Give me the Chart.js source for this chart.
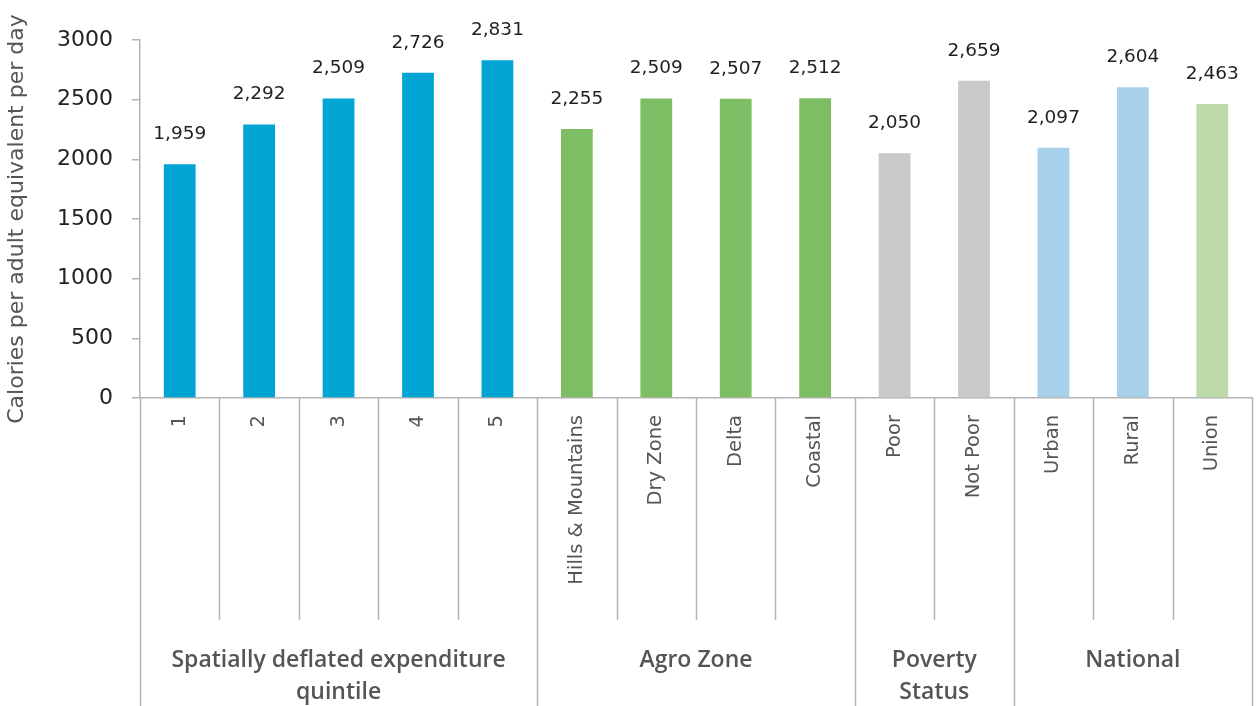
<!DOCTYPE html>
<html>
<head>
<meta charset="utf-8">
<script src="https://cdn.jsdelivr.net/npm/chart.js@4.4.1/dist/chart.umd.min.js"></script>
<style>
  html, body { margin: 0; padding: 0; background: #fff; }
  #wrap { width: 1258px; height: 706px; }
</style>
</head>
<body>
<div id="wrap"><canvas id="calChart" width="1258" height="706"></canvas></div>
<script>
// Calories per adult equivalent per day, by group

const categories = ['1', '2', '3', '4', '5', 'Hills & Mountains', 'Dry Zone', 'Delta', 'Coastal',
  'Poor', 'Not Poor', 'Urban', 'Rural', 'Union'];
const calories = [1959, 2292, 2509, 2726, 2831, 2255, 2509, 2507, 2512, 2050, 2659, 2097, 2604, 2463];
const groupNames = [['Spatially deflated expenditure', 'quintile'], ['Agro Zone'], ['Poverty', 'Status'], ['National']];
const groupSizes = [5, 4, 2, 3];
const yTickValues = [0, 500, 1000, 1500, 2000, 2500, 3000];

const barColors = ['#00A5D4', '#00A5D4', '#00A5D4', '#00A5D4', '#00A5D4',
  '#7DBE64', '#7DBE64', '#7DBE64', '#7DBE64',
  '#C8C9CB', '#C8C9CB',
  '#A7D1EA', '#A7D1EA', '#BBDAA8'];

const lineColor = '#b4b4b4';

// value labels above the bars
const valueLabels = {
  id: 'valueLabels',
  afterDatasetsDraw(chart) {
    const ctx = chart.ctx;
    const meta = chart.getDatasetMeta(0);
    ctx.save();
    ctx.font = '18.5px "DejaVu Sans"';
    ctx.fillStyle = '#231f20';
    ctx.textAlign = 'center';
    ctx.textBaseline = 'middle';
    meta.data.forEach((bar, i) => {
      ctx.fillText(calories[i].toLocaleString('en-US'), bar.x, bar.y - 30);
    });
    ctx.restore();
  }
};

// category separators and group labels under the axis
const groupAxis = {
  id: 'groupAxis',
  afterDraw(chart) {
    const ctx = chart.ctx;
    const x = chart.scales.x;
    const n = categories.length;
    const w = (x.right - x.left) / n;
    const top = x.top;
    const bottom = chart.height;
    const edgeAt = i => x.left + w * i;

    const groupEdges = [0];
    groupSizes.forEach(s => groupEdges.push(groupEdges[groupEdges.length - 1] + s));

    ctx.save();
    ctx.strokeStyle = lineColor;
    ctx.lineWidth = 1.5;
    for (let i = 0; i <= n; i++) {
      const px = Math.round(edgeAt(i)) + 0.5;
      const isGroup = groupEdges.indexOf(i) >= 0;
      ctx.beginPath();
      ctx.moveTo(px, top);
      ctx.lineTo(px, isGroup ? bottom : 620);
      ctx.stroke();
    }

    ctx.font = '600 23px "Open Sans"';
    ctx.fillStyle = '#555555';
    ctx.textAlign = 'center';
    ctx.textBaseline = 'middle';
    groupNames.forEach((lines, g) => {
      const cx = (edgeAt(groupEdges[g]) + edgeAt(groupEdges[g + 1])) / 2;
      lines.forEach((t, k) => ctx.fillText(t, cx, 660 + k * 32));
    });
    ctx.restore();
  }
};

const ctx = document.getElementById('calChart').getContext('2d');
new Chart(ctx, {
  type: 'bar',
  data: {
    labels: categories,
    datasets: [{
      data: calories,
      backgroundColor: barColors,
      categoryPercentage: 1.0,
      barPercentage: 0.4
    }]
  },
  options: {
    responsive: false,
    animation: false,
    layout: { padding: { top: 40, right: 6, left: 0, bottom: 0 } },
    plugins: {
      legend: { display: false },
      tooltip: { enabled: false },
      title: { display: false }
    },
    scales: {
      x: {
        grid: { display: false, drawTicks: false },
        border: { display: true, color: lineColor, width: 1.5 },
        ticks: {
          autoSkip: false,
          minRotation: 90,
          maxRotation: 90,
          padding: 17,
          color: '#555555',
          font: { family: 'DejaVu Sans', size: 19.5 }
        },
        afterFit(scale) { scale.height = 308; }
      },
      y: {
        min: 0,
        max: 3000,
        afterBuildTicks(scale) { scale.ticks = yTickValues.map(v => ({ value: v })); },
        grid: { drawOnChartArea: false, drawTicks: true, tickLength: 8, color: lineColor, lineWidth: 1.5 },
        border: { display: true, color: lineColor, width: 1.5 },
        ticks: {
          padding: 19,
          color: '#222222',
          font: { family: 'DejaVu Sans', size: 22 },
          callback: v => String(v)
        },
        title: {
          display: true,
          text: 'Calories per adult equivalent per day',
          color: '#555555',
          font: { family: 'DejaVu Sans', size: 22 },
          padding: { top: 4, bottom: 0 }
        },
        afterFit(scale) { scale.width = 140; }
      }
    }
  },
  plugins: [valueLabels, groupAxis]
});
</script>
</body>
</html>
